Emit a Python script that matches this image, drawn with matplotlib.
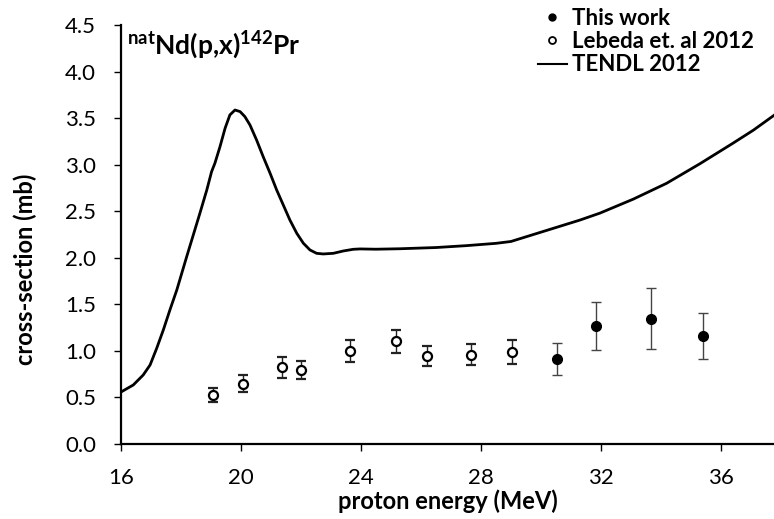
import numpy as np
import matplotlib
matplotlib.use('Agg')
import matplotlib.pyplot as plt
from matplotlib.lines import Line2D

plt.rcParams['font.family'] = ['Lato', 'DejaVu Sans']
plt.rcParams['mathtext.fontset'] = 'custom'
plt.rcParams['mathtext.rm'] = 'Lato'
plt.rcParams['mathtext.bf'] = 'Lato:bold'

# this work (filled)
e_this = [30.53, 31.84, 33.67, 35.41]
xs_this = [0.91, 1.265, 1.345, 1.163]
err_this = [0.17, 0.255, 0.33, 0.245]

# Lebeda et al 2012 (open)
e_leb = [19.06, 20.08, 21.37, 21.99, 23.62, 25.17, 26.20, 27.66, 29.02]
xs_leb = [0.53, 0.648, 0.824, 0.798, 0.999, 1.103, 0.949, 0.959, 0.991]
err_leb = [0.075, 0.09, 0.11, 0.097, 0.115, 0.125, 0.107, 0.113, 0.129]

# TENDL 2012
e_tendl = [16.02, 16.41, 16.74, 16.97, 17.19, 17.41, 17.63, 17.86, 18.19, 18.41,
           18.63, 18.86, 19.02, 19.13, 19.30, 19.47, 19.63, 19.80, 19.97, 20.13,
           20.30, 20.52, 20.74, 20.97, 21.19, 21.41, 21.63, 21.86, 22.08, 22.30,
           22.52, 22.74, 23.08, 23.41, 23.74, 23.97, 24.5, 25.3, 26.5, 27.5,
           28.5, 29.0, 29.5, 30.3, 31.3, 31.97, 33.08, 34.19, 35.3, 36.4,
           37.08, 37.77]
xs_tendl = [0.562, 0.634, 0.741, 0.849, 1.028, 1.224, 1.439, 1.654, 2.012, 2.245,
            2.478, 2.728, 2.925, 3.015, 3.193, 3.391, 3.534, 3.587, 3.570, 3.516,
            3.426, 3.265, 3.086, 2.908, 2.728, 2.567, 2.406, 2.263, 2.156, 2.084,
            2.048, 2.041, 2.048, 2.073, 2.091, 2.095, 2.092, 2.097, 2.11, 2.13,
            2.155, 2.175, 2.225, 2.305, 2.405, 2.48, 2.63, 2.80, 3.01, 3.23,
            3.37, 3.53]

W, H = 774, 519
fig = plt.figure(figsize=(W / 100, H / 100), dpi=100)
ax = fig.add_axes([121 / W, 75 / H, 1 - 121 / W, 419 / H])

ax.plot(e_tendl, xs_tendl, color='black', lw=2.0, zorder=2,
        solid_joinstyle='round')
ax.errorbar(e_leb, xs_leb, yerr=err_leb, fmt='o', mfc='white', mec='black',
            mew=1.6, ms=6.5, ecolor='#222222', elinewidth=1, capsize=3.5,
            capthick=1, zorder=3)
ax.errorbar(e_this, xs_this, yerr=err_this, fmt='o', mfc='black', mec='black',
            ms=7, ecolor='#444444', elinewidth=1, capsize=3.5, capthick=1,
            zorder=3)

ax.set_xlim(16, 37.77)
ax.set_ylim(0, 4.5)
ax.set_xticks([16, 20, 24, 28, 32, 36])
yt = np.arange(0, 4.51, 0.5)
ax.set_yticks(yt)
ax.set_yticklabels(['%.1f' % v for v in yt])
ax.tick_params(labelsize=16, length=5, width=1, direction='out')
ax.tick_params(axis='x', pad=12)
ax.tick_params(axis='y', pad=13)
for s in ['top', 'right']:
    ax.spines[s].set_visible(False)
for s in ['left', 'bottom']:
    ax.spines[s].set_linewidth(1.6)

ax.set_xlabel('proton energy (MeV)', fontsize=17, fontweight='bold', va='center')
ax.xaxis.set_label_coords(0.5, (444 - 501) / 419)
ax.set_ylabel('cross-section (mb)', fontsize=17, fontweight='bold', va='center')
ax.yaxis.set_label_coords((25 - 121) / 653, (444 - 269) / 419)

ax.text(127 / W, 1 - 45 / H, r'$^{\mathbf{nat}}\mathbf{Nd(p{,}x)}^{\mathbf{142}}\mathbf{Pr}$',
        transform=fig.transFigure, fontsize=19, va='center', ha='left')

handles = [
    Line2D([], [], ls='none', marker='o', mfc='black', mec='black', ms=5),
    Line2D([], [], ls='none', marker='o', mfc='white', mec='black', mew=1.3, ms=5),
    Line2D([], [], color='black', lw=1.5),
]
fig.legend(handles, ['This work', 'Lebeda et. al 2012', 'TENDL 2012'],
           loc='upper left', bbox_to_anchor=(538 / W, 1 - 8 / H), frameon=False,
           prop={'weight': 'bold', 'size': 16}, handlelength=1.3,
           handletextpad=0.25, labelspacing=0.1, borderpad=0, borderaxespad=0)

fig.savefig('out.png', dpi=100)
